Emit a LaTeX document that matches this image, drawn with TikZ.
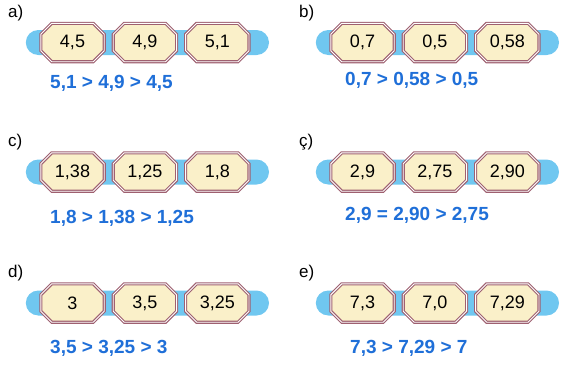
\documentclass[tikz,border=0pt]{standalone}
\usepackage{fontspec}
\setmainfont{Liberation Sans}
\usetikzlibrary{positioning,calc,backgrounds}
\definecolor{barblue}{HTML}{70C7F0}
\definecolor{tilefill}{HTML}{FAF0C9}
\definecolor{tileedge}{HTML}{9E6070}
\definecolor{ansblue}{HTML}{1F6FD8}

\begin{document}
\begin{tikzpicture}[x=1pt,y=-1pt,
        tile/.style={rectangle,minimum width=63pt,minimum height=38pt,inner sep=0pt,
          font=\fontsize{18}{20}\selectfont},
        octo/.style={draw=tileedge,line width=1.1pt,double=white,double distance=0.9pt,fill=tilefill},
        lbl/.style={anchor=west,inner sep=0pt,font=\fontsize{17}{20}\selectfont},
        ans/.style={anchor=west,inner sep=0pt,text=ansblue,font=\fontsize{19}{22}\selectfont\bfseries},
        bar/.style={fill=barblue,rounded corners=12.5pt}]
        \useasboundingbox (0,0) rectangle (564,368);
        % a)
        \node[lbl] (la) at (8,13) {a)};
        \node[tile] (a1) at (72.5,42.5) {4,5};
        \node[tile,right=9pt of a1] (a2) {4,9};
        \node[tile,right=9pt of a2] (a3) {5,1};
        \node[ans] (ra) at (50,83) {5,1 > 4,9 > 4,5};
        % b)
        \node[lbl] (lb) at (299,13) {b)};
        \node[tile] (b1) at (362.5,42.5) {0,7};
        \node[tile,right=9pt of b1] (b2) {0,5};
        \node[tile,right=9pt of b2] (b3) {0,58};
        \node[ans] (rb) at (345,80) {0,7 > 0,58 > 0,5};
        % c)
        \node[lbl] (lc) at (8,142) {c)};
        \node[tile] (c1) at (72.5,172) {1,38};
        \node[tile,right=9pt of c1] (c2) {1,25};
        \node[tile,right=9pt of c2] (c3) {1,8};
        \node[ans] (rc) at (50,218) {1,8 > 1,38 > 1,25};
        % ç)
        \node[lbl] (lcc) at (299,142) {ç)};
        \node[tile] (cc1) at (362.5,172) {2,9};
        \node[tile,right=9pt of cc1] (cc2) {2,75};
        \node[tile,right=9pt of cc2] (cc3) {2,90};
        \node[ans] (rcc) at (345,215) {2,9 = 2,90 > 2,75};
        % d)
        \node[lbl] (ld) at (8,273) {d)};
        \node[tile] (d1) at (72.5,303) {3};
        \node[tile,right=9pt of d1] (d2) {3,5};
        \node[tile,right=9pt of d2] (d3) {3,25};
        \node[ans] (rd) at (50,348) {3,5 > 3,25 > 3};
        % e)
        \node[lbl] (le) at (299,273) {e)};
        \node[tile] (e1) at (362.5,303) {7,3};
        \node[tile,right=9pt of e1] (e2) {7,0};
        \node[tile,right=9pt of e2] (e3) {7,29};
        \node[ans] (re) at (350,348) {7,3 > 7,29 > 7};
        % blue bars and octagon tiles behind the numbers
        \begin{scope}[on background layer]
          \foreach \r in {a,b,c,cc,d,e}{
            \fill[bar] ($(\r1.west)+(-15,-12.5)$) rectangle ($(\r3.east)+(20,12.5)$);
            \foreach \i in {1,2,3}
              \path[octo] ($(\r\i.north west)+(11,0)$) -- ($(\r\i.north east)+(-11,0)$)
                -- ($(\r\i.north east)+(0,11)$) -- ($(\r\i.south east)+(0,-11)$)
                -- ($(\r\i.south east)+(-11,0)$) -- ($(\r\i.south west)+(11,0)$)
                -- ($(\r\i.south west)+(0,-11)$) -- ($(\r\i.north west)+(0,11)$) -- cycle;
          }
        \end{scope}
\end{tikzpicture}
\end{document}
